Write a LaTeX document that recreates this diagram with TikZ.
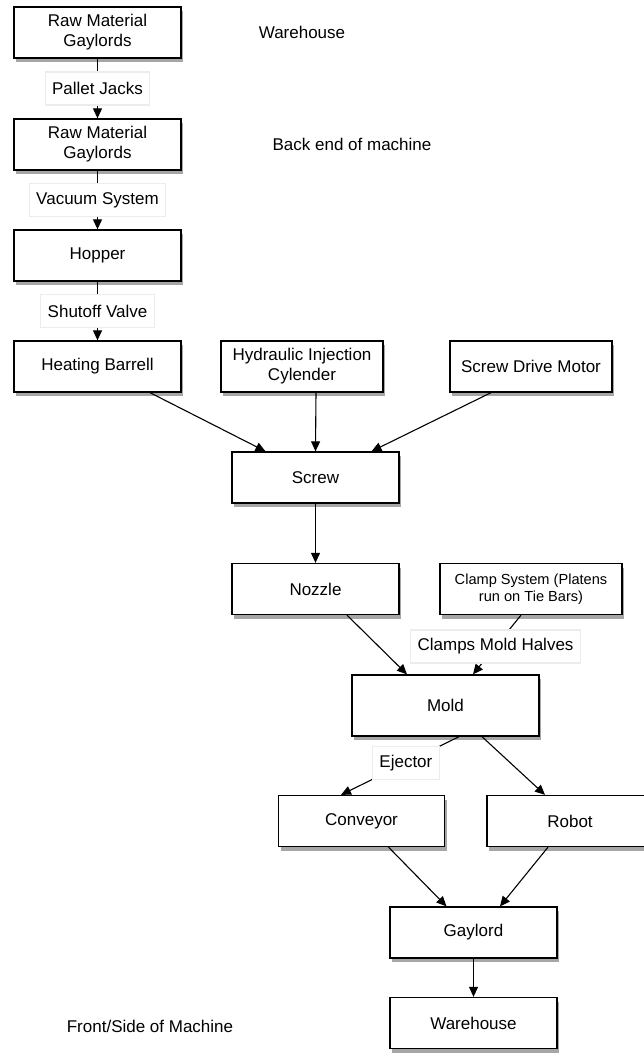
\documentclass[tikz,border=0pt]{standalone}
\usepackage{fontspec}
\setmainfont{Liberation Sans}
\usetikzlibrary{arrows.meta, shadows}

\begin{document}
\begin{tikzpicture}[
    x=1pt,y=-1pt,
    box/.style={draw, line width=1.3pt, fill=white, align=center,
      font=\fontsize{17}{20}\selectfont,
      minimum width=167pt, minimum height=51pt, inner sep=0pt,
      drop shadow={shadow xshift=2pt, shadow yshift=-4pt, fill=black, opacity=0.35}},
    lbl/.style={fill=white, draw=gray!15, font=\fontsize{17}{20}\selectfont,
      inner xsep=7pt, minimum height=33pt},
    txt/.style={font=\fontsize{17}{20}\selectfont},
    line/.style={line width=1.1pt, -{Triangle[length=10pt,width=9pt]}}
    ]
    \useasboundingbox (0,0) rectangle (644,1053);
    % left column
    \node[box] (rm1) at (97.5, 32.5) {Raw Material\\Gaylords};
    \node[box] (rm2) at (97.5, 144.5) {Raw Material\\Gaylords};
    \node[box] (hop) at (97.5, 255.5) {Hopper};
    \node[box] (hb) at (97.5, 366.5) {Heating Barrell};
    \node[box, minimum width=162pt] (hic) at (302, 366.5) {Hydraulic Injection\\Cylender};
    \node[box, minimum width=162pt] (sdm) at (531, 366.5) {Screw Drive Motor};
    \node[box] (screw) at (315.5, 477.5) {Screw};
    \node[box] (noz) at (315.5, 589) {Nozzle};
    \node[box, minimum width=182pt, font=\fontsize{14.6}{17.5}\selectfont] (clamp) at (531, 589) {Clamp System (Platens\\run on Tie Bars)};
    \node[box, minimum width=187pt, minimum height=61pt] (mold) at (445.5, 705.5) {Mold};
    \node[box, minimum width=166pt] (conv) at (361.5, 821) {Conveyor};
    \node[box, minimum width=166pt] (robot) at (570, 821) {Robot};
    \node[box] (gay) at (473.5, 932.5) {Gaylord};
    \node[box] (wh) at (473.5, 1023) {Warehouse};
    % side texts
    \node[txt] (t1) at (302, 32) {Warehouse};
    \node[txt] (t2) at (352, 144) {Back end of machine};
    \node[txt] (t3) at (150, 1026) {Front/Side of Machine};
    % connectors
    \draw[line] (rm1) -- node[lbl] {Pallet Jacks} (rm2);
    \draw[line] (rm2) -- node[lbl] {Vacuum System} (hop);
    \draw[line] (hop) -- node[lbl] {Shutoff Valve} (hb);
    \draw[line] ([xshift=52.5pt]hb.south) -- ([xshift=-50pt]screw.north);
    \draw[line] ([xshift=14pt]hic.south) -- (screw.north);
    \draw[line] ([xshift=-40pt]sdm.south) -- ([xshift=56pt]screw.north);
    \draw[line] (screw) -- (noz);
    \draw[line] ([xshift=31.5pt]noz.south) -- ([xshift=-38.5pt]mold.north);
    \draw[line] ([xshift=-10pt]clamp.south) -- node[lbl, pos=0.53] {Clamps Mold Halves} ([xshift=27.5pt]mold.north);
    \draw[line] ([xshift=13.5pt]mold.south) -- node[lbl, pos=0.45] {Ejector} ([xshift=-20.5pt]conv.north);
    \draw[line] ([xshift=36.5pt]mold.south) -- ([xshift=-25pt]robot.north);
    \draw[line] ([xshift=27pt]conv.south) -- ([xshift=-27pt]gay.north);
    \draw[line] ([xshift=-22pt]robot.south) -- ([xshift=26.5pt]gay.north);
    \draw[line] (gay) -- (wh);
\end{tikzpicture}
\end{document}
